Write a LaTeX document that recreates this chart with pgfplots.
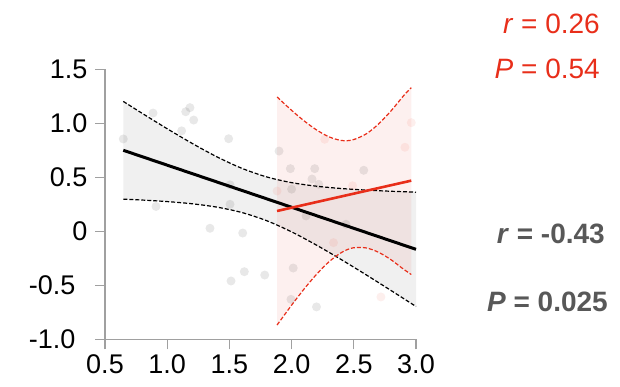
\documentclass[border=0pt]{standalone}
\usepackage{fontspec}
\setmainfont{Liberation Sans}
\usepackage{pgfplots}
\pgfplotsset{compat=1.18}
\usepgfplotslibrary{fillbetween}
\definecolor{myred}{RGB}{232,46,26}
\definecolor{txtgray}{RGB}{88,88,88}
\definecolor{axgray}{RGB}{160,160,160}
\begin{document}
\begin{tikzpicture}
\begin{axis}[
  scale only axis, width=311pt, height=270pt,
  anchor=south west, at={(105pt,47.7pt)},
  xmin=0.5, xmax=3.0, ymin=-1, ymax=1.5,
  axis lines*=left,
  axis line style={axgray, line width=1.2pt},
  every tick/.style={axgray, line width=1.2pt},
  tick align=outside, major tick length=10pt,
  xtick={0.5,1.0,1.5,2.0,2.5,3.0},
  xticklabels={0.5,1.0,1.5,2.0,2.5,3.0},
  ytick={-1,-0.5,0,0.5,1.0,1.5},
  yticklabels={-1.0\kern12pt,-0.5\kern12pt,0,0.5,1.0,1.5},
  ticklabel style={font=\fontsize{27}{27}\selectfont, text=black},
  /pgf/number format/assume math mode=true,
  xticklabel style={yshift=-2pt},
  yticklabel style={xshift=-4pt},
  clip=false,
]
% black CI
\addplot[name path=bu, draw=black, dash pattern=on 4pt off 2pt, line width=1.2pt, smooth] coordinates {
(0.647,1.2025) (0.8,1.0915) (1.0,0.9496) (1.2,0.8141) (1.4,0.6893) (1.6,0.5832) (1.8,0.5034) (2.0,0.4506) (2.2,0.4176) (2.4,0.3961) (2.6,0.3814) (2.8,0.3706) (3.0,0.3623)};
\addplot[name path=bl, draw=black, dash pattern=on 4pt off 2pt, line width=1.2pt, smooth] coordinates {
(0.647,0.2975) (0.8,0.2893) (1.0,0.2752) (1.2,0.2549) (1.4,0.2237) (1.6,0.1740) (1.8,0.0980) (2.0,-0.0052) (2.2,-0.1280) (2.4,-0.2625) (2.6,-0.4036) (2.8,-0.5488) (3.0,-0.6963)};
\addplot[black, fill opacity=0.06, draw=none] fill between[of=bu and bl];
% red CI
\addplot[name path=ru, draw=myred, dash pattern=on 4pt off 2pt, line width=1.2pt, smooth] coordinates {
(1.883,1.244) (2.0,1.120) (2.1,1.023) (2.2,0.939) (2.3,0.875) (2.4,0.841) (2.49,0.846) (2.6,0.902) (2.7,0.995) (2.8,1.116) (2.9,1.255) (2.962,1.330)};
\addplot[name path=rl, draw=myred, dash pattern=on 4pt off 2pt, line width=1.2pt, smooth] coordinates {
(1.883,-0.868) (2.0,-0.684) (2.1,-0.535) (2.2,-0.399) (2.3,-0.283) (2.4,-0.197) (2.49,-0.154) (2.6,-0.154) (2.7,-0.195) (2.8,-0.264) (2.9,-0.351) (2.962,-0.400)};
\addplot[myred, fill opacity=0.07, draw=none] fill between[of=ru and rl];
% points
\addplot[only marks, mark=*, mark size=4.5pt, mark options={draw opacity=0, fill=black, fill opacity=0.09}] coordinates {
(0.647,0.855) (0.886,1.095) (0.91,0.23) (1.116,0.93) (1.149,1.107) (1.183,1.145) (1.213,1.03)
(1.344,0.028) (1.494,0.857) (1.505,0.43) (1.505,0.25) (1.513,-0.46) (1.607,-0.016) (1.62,-0.374)
(1.784,-0.405) (1.899,0.743) (1.99,0.58) (2.0,0.39) (2.013,-0.34) (1.995,-0.63) (2.186,0.58)
(2.164,0.484) (2.218,0.435) (2.116,0.142) (2.2,-0.70) (2.58,0.565) (2.437,0.065)};
\addplot[only marks, mark=*, mark size=4.5pt, mark options={draw opacity=0, fill=myred, fill opacity=0.08}] coordinates {
(1.883,0.373) (2.266,0.852) (2.49,0.422) (2.337,-0.105) (2.718,-0.608) (2.911,0.778) (2.962,1.006)};
% fit lines
\addplot[black, line width=3pt] coordinates {(0.647,0.75) (3.0,-0.167)};
\addplot[myred, line width=2.6pt] coordinates {(1.883,0.188) (2.962,0.469)};
\end{axis}
\node[anchor=base east, text=myred, font=\fontsize{28}{28}\selectfont, inner sep=0pt] at (600pt,353.7pt) {\textit{r} = 0.26};
\node[anchor=base east, text=myred, font=\fontsize{28}{28}\selectfont, inner sep=0pt] at (600pt,308pt) {\textit{P} = 0.54};
\node[anchor=base east, text=txtgray, font=\fontsize{28}{28}\selectfont\bfseries, inner sep=0pt] at (605pt,143.7pt) {\textit{r} = -0.43};
\node[anchor=base east, text=txtgray, font=\fontsize{28}{28}\selectfont\bfseries, inner sep=0pt] at (608pt,75.3pt) {\textit{P} = 0.025};
\pgfresetboundingbox
\useasboundingbox (0,0) rectangle (620pt,387pt);
\end{tikzpicture}
\end{document}
